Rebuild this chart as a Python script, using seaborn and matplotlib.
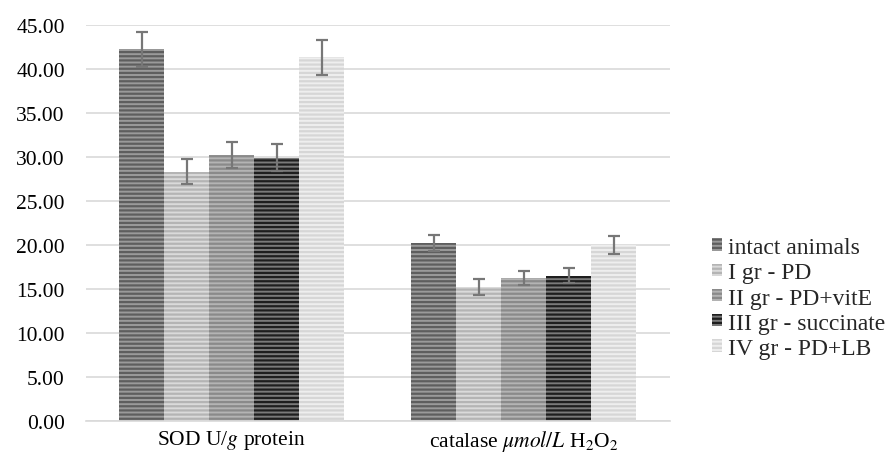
import matplotlib
matplotlib.use("Agg")
import matplotlib.pyplot as plt
import seaborn as sns
import pandas as pd
import numpy as np

categories = [r"SOD U/$\mathit{g}$ protein", r"catalase $\mathit{\mu mol/L}$ H$_2$O$_2$"]
groups = ["intact animals", "I gr - PD", "II gr - PD+vitE", "III gr - succinate", "IV gr - PD+LB"]
sod_values = [42.2, 28.3, 30.2, 29.9, 41.3]
sod_errors = [2.0, 1.4, 1.5, 1.5, 2.0]
cat_values = [20.2, 15.2, 16.2, 16.5, 20.0]
cat_errors = [0.9, 0.9, 0.8, 0.85, 1.0]

face_colors = ["#9a9a9a", "#dadada", "#b4b4b4", "#7a7a7a", "#eeeeee"]
hatch_colors = ["#5e5e5e", "#b4b4b4", "#8a8a8a", "#1e1e1e", "#d6d6d6"]

rows = []
for g, v in zip(groups, sod_values):
    rows.append({"cat": categories[0], "group": g, "value": v})
for g, v in zip(groups, cat_values):
    rows.append({"cat": categories[1], "group": g, "value": v})
df = pd.DataFrame(rows)
err_map = {(categories[0], g): e for g, e in zip(groups, sod_errors)}
err_map.update({(categories[1], g): e for g, e in zip(groups, cat_errors)})

sns.set_style("white")
plt.rcParams["font.family"] = ["Liberation Serif", "DejaVu Serif"]
plt.rcParams["mathtext.fontset"] = "stix"
plt.rcParams["hatch.linewidth"] = 1.6

fig = plt.figure(figsize=(8.92, 4.6), dpi=100)
ax = fig.add_axes([0.096, 0.083, 0.655, 0.861])

sns.barplot(data=df, x="cat", y="value", hue="group", hue_order=groups,
            order=categories, palette=face_colors, width=0.77, ax=ax,
            errorbar=None, saturation=1, linewidth=0)

bar_containers = list(ax.containers)
for gi, cont in enumerate(bar_containers):
    for ci, bar in enumerate(cont):
        bar.set_facecolor(face_colors[gi])
        bar.set_edgecolor(hatch_colors[gi])
        bar.set_hatch("----")
        bar.set_linewidth(0)
        x = bar.get_x() + bar.get_width() / 2
        y = bar.get_height()
        e = err_map[(categories[ci], groups[gi])]
        ax.errorbar(x, y, yerr=e, color="#777777", capsize=4.5, elinewidth=1.6,
                    capthick=1.6, zorder=5)

ax.set_xlim(-0.5, 1.5)
ax.set_ylim(0, 45)
ax.set_yticks(np.arange(0, 46, 5))
ax.set_yticklabels([f"{t:.2f}" for t in np.arange(0, 46, 5)])
ax.yaxis.grid(True, color="#d9d9d9", linewidth=1.2)
ax.set_axisbelow(True)
for s in ["top", "right", "left"]:
    ax.spines[s].set_visible(False)
ax.spines["bottom"].set_color("#d9d9d9")
ax.spines["bottom"].set_linewidth(1.2)
ax.tick_params(axis="both", length=0, labelsize=15.5, colors="#000000")
ax.tick_params(axis="y", pad=15)
ax.tick_params(axis="x", pad=5)
ax.set_xlabel("")
ax.set_ylabel("")

handles, labels = ax.get_legend_handles_labels()
for gi, h in enumerate(handles):
    h.set_facecolor(face_colors[gi])
    h.set_edgecolor(hatch_colors[gi])
    h.set_hatch("----")
    h.set_linewidth(0)
ax.legend(handles, labels, loc="center left", bbox_to_anchor=(1.04, 0.31),
          frameon=False, fontsize=17, handlelength=0.42, handleheight=0.42,
          handletextpad=0.25, labelspacing=0.18, borderaxespad=0.4)

fig.savefig("out.png", dpi=100)
